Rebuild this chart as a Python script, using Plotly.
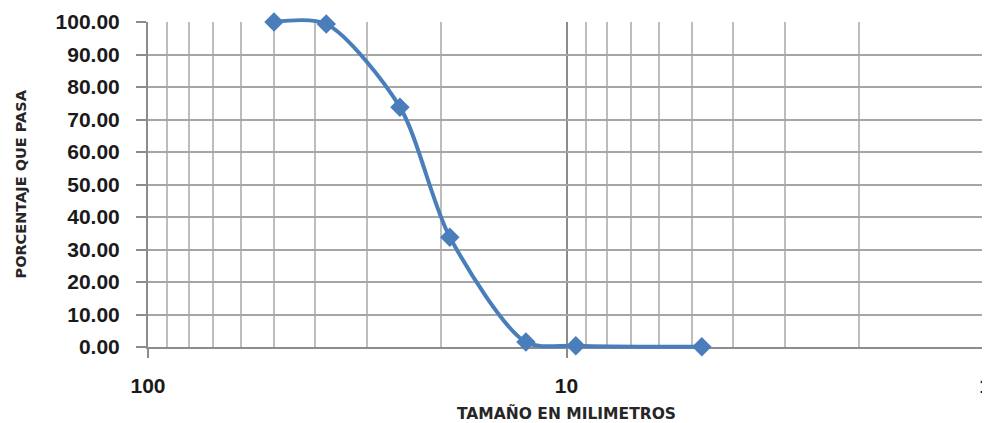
import plotly.graph_objects as go

# Data
tamano_mm = [50, 37.5, 25, 19, 12.5, 9.5, 4.75]
porcentaje_pasa = [100.0, 99.4, 73.8, 33.8, 1.5, 0.4, 0.1]

x_major_ticks = [100, 10, 1]
x_major_text = ["100", "10", "1"]
x_minor_ticks = [90, 80, 70, 60, 50, 40, 30, 20, 9, 8, 7, 6, 5, 4, 3, 2]
y_ticks = [0, 10, 20, 30, 40, 50, 60, 70, 80, 90, 100]

x_title = "TAMAÑO EN MILIMETROS"
y_title = "PORCENTAJE QUE PASA"

blue = "#4a7ebb"
tick_font = dict(family="Liberation Sans", size=21, color="#1a1a1a", weight="bold")
title_font = dict(family="DejaVu Sans", color="#262626", weight="bold")

# Layout geometry (figure is placed 8px into the page by the body margin)
W, H = 982, 415
m_l, m_r, m_t, m_b = 140, 5, 4, 68
plot_h = H - m_t - m_b
g = 8 / plot_h                      # bottom of grid subplot inside plot area
f = (plot_h - 10) / plot_h          # top of grid subplot inside plot area
per = (f - g) / 100.0
y2_lo = -g / per
y2_hi = y2_lo + 1.0 / per

fig = go.Figure()
fig.add_trace(go.Scatter(
    x=tamano_mm, y=porcentaje_pasa, mode="lines+markers",
    xaxis="x2", yaxis="y2",
    line=dict(color=blue, width=4, shape="spline", smoothing=0.8),
    marker=dict(symbol="diamond", size=15, color=blue),
    cliponaxis=False, showlegend=False,
))
# invisible trace to keep the main subplot active
fig.add_trace(go.Scatter(x=[10], y=[50], mode="markers", marker=dict(opacity=0),
                         showlegend=False, hoverinfo="skip", xaxis="x", yaxis="y"))

fig.update_layout(
    width=W, height=H,
    margin=dict(l=m_l, r=m_r, t=m_t, b=m_b, autoexpand=False),
    paper_bgcolor="white", plot_bgcolor="rgba(0,0,0,0)",
    xaxis=dict(
        type="log", range=[2, 0], domain=[0, 1], anchor="y", automargin=False,
        tickvals=x_major_ticks, ticktext=x_major_text,
        tickfont=tick_font, ticklabeloverflow="allow",
        showgrid=True, gridcolor="#8c8c8c", gridwidth=2,
        showline=True, linecolor="#8c8c8c", linewidth=2,
        ticks="outside", ticklen=9, tickwidth=2, tickcolor="#8c8c8c",
        ticklabelstandoff=10,
        minor=dict(tickvals=x_minor_ticks, showgrid=True,
                   gridcolor="#bdbdbd", gridwidth=2, ticks=""),
        zeroline=False,
    ),
    yaxis=dict(
        range=[0, 100], domain=[g, f], anchor="x", automargin=False,
        tickvals=y_ticks, tickformat=".2f",
        tickfont=tick_font,
        showgrid=True, gridcolor="#a6a6a6", gridwidth=2,
        showline=True, linecolor="#8c8c8c", linewidth=2,
        ticks="outside", ticklen=10, tickwidth=2, tickcolor="#8c8c8c",
        ticklabelstandoff=12,
        zeroline=False,
    ),
    xaxis2=dict(type="log", range=[2, 0], domain=[0, 1], anchor="y2", automargin=False,
                visible=False, showgrid=False, zeroline=False),
    yaxis2=dict(range=[y2_lo, y2_hi], domain=[0, 1], anchor="x2", automargin=False,
                visible=False, showgrid=False, zeroline=False),
    annotations=[
        dict(text=y_title, textangle=-90, x=0, xref="x domain", y=0.5, yref="y domain",
             xshift=-128, showarrow=False, xanchor="center", yanchor="middle",
             font=dict(title_font, size=14.5)),
        dict(text=x_title, x=0.5, xref="x domain", y=0, yref="y domain",
             yshift=-66, showarrow=False, xanchor="center", yanchor="middle",
             font=dict(title_font, size=15.5)),
    ],
    shapes=[
        dict(type="line", xref="x domain", yref="y domain", x0=-0.1756, x1=-0.1756,
             y0=-0.234, y1=1.07, line=dict(color="#c8c8c8", width=2)),
    ],
)

fig.write_html("out.html")
